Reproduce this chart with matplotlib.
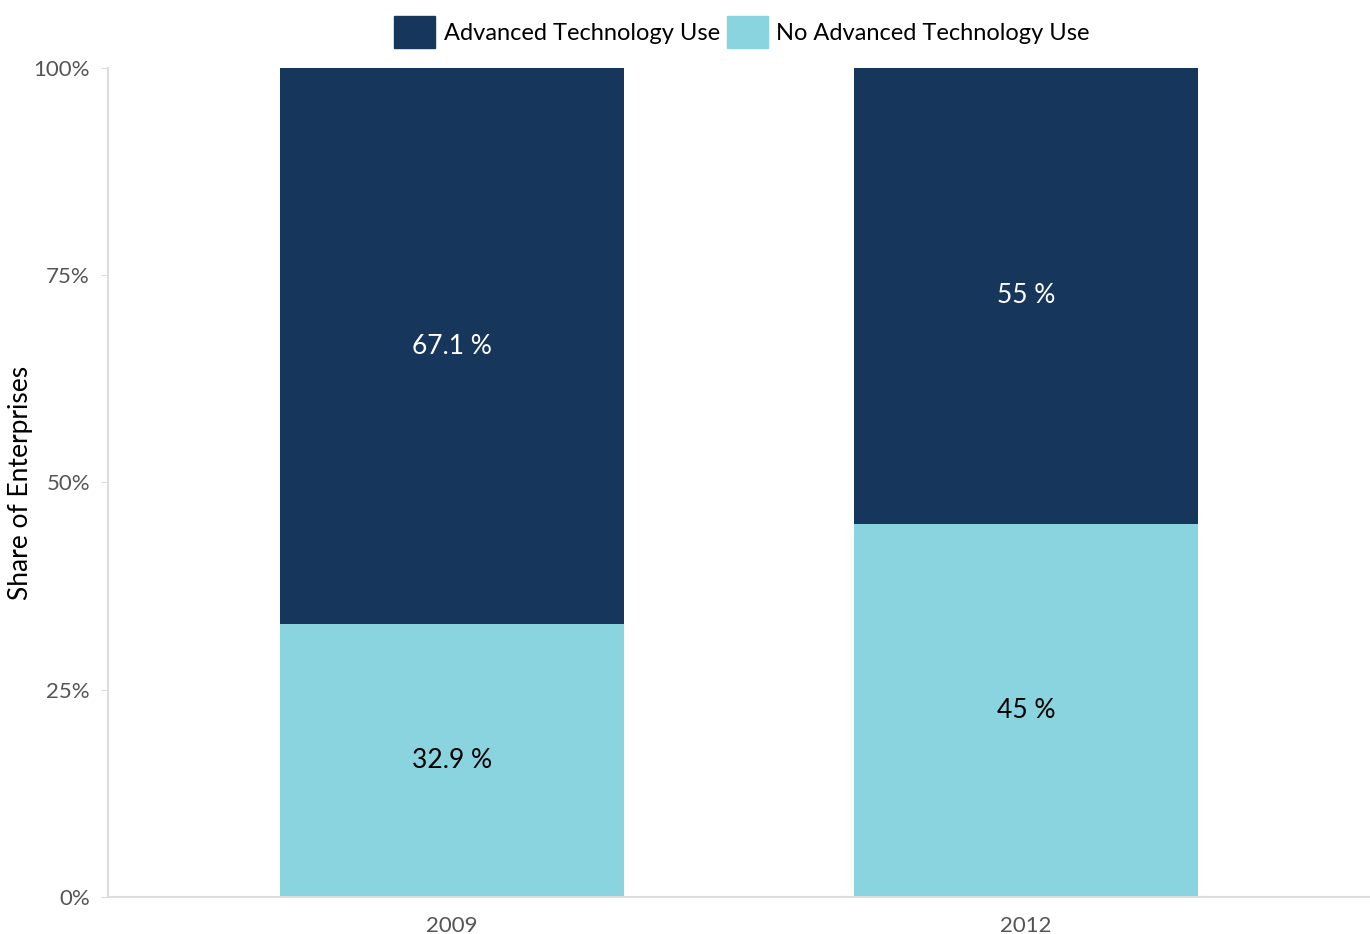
import matplotlib.pyplot as plt
from matplotlib.patches import Patch
from matplotlib.ticker import FuncFormatter

plt.rcParams["font.family"] = ["Lato", "DejaVu Sans"]

years = ["2009", "2012"]
no_adv = [32.9, 45.0]
adv = [67.1, 55.0]

navy = "#16365c"
cyan = "#8ad4df"

fig = plt.figure(figsize=(13.7, 9.34), dpi=100)
ax = fig.add_axes([108 / 1370, 1 - 897 / 934, 1262 / 1370, 829 / 934])

x = range(len(years))
ax.bar(x, no_adv, width=0.6, color=cyan)
ax.bar(x, adv, width=0.6, bottom=no_adv, color=navy)

for i in x:
    ax.text(i, no_adv[i] / 2, f"{no_adv[i]:g} %", ha="center", va="center",
            fontsize=19, color="black")
    ax.text(i, no_adv[i] + adv[i] / 2, f"{adv[i]:g} %", ha="center", va="center",
            fontsize=19, color="white")

ax.set_xlim(-0.6, 1.6)
ax.set_ylim(0, 100)
ax.set_xticks(list(x))
ax.set_xticklabels(years)
ax.set_yticks([0, 25, 50, 75, 100])
ax.yaxis.set_major_formatter(FuncFormatter(lambda v, _: f"{v:.0f}%"))
ax.tick_params(axis="y", length=5, color="#dddddd", labelsize=16, labelcolor="#555555", pad=8)
ax.tick_params(axis="x", length=0, labelsize=16, labelcolor="#555555", pad=14)

for side in ["top", "right"]:
    ax.spines[side].set_visible(False)
for side in ["left", "bottom"]:
    ax.spines[side].set_color("#dddddd")
    ax.spines[side].set_linewidth(1.5)

ax.set_ylabel("Share of Enterprises", fontsize=19, labelpad=0)

handles = [Patch(color=navy, label="Advanced Technology Use"),
           Patch(color=cyan, label="No Advanced Technology Use")]
fig.legend(handles=handles, loc="center", bbox_to_anchor=(742 / 1370, 1 - 32 / 934),
           ncol=2, frameon=False, fontsize=17, handlelength=1.75, handleheight=1.75,
           handletextpad=0.35, columnspacing=0.3)

fig.savefig("out.png", dpi=100)
